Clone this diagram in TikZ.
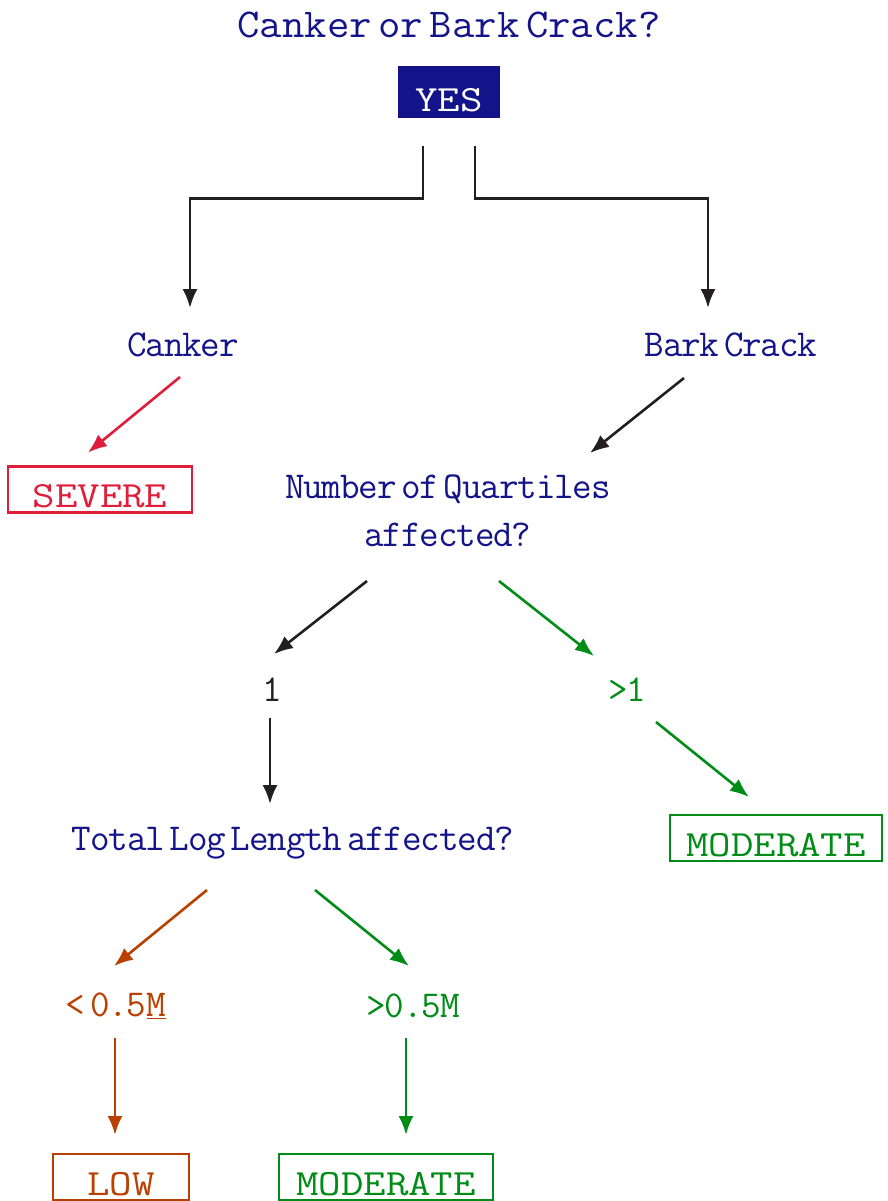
\documentclass[tikz,border=0pt]{standalone}
\usepackage{fontspec}
\usetikzlibrary{arrows.meta}
\setmainfont{Latin Modern Mono}
\newfontfamily\boxmono[FakeStretch=1.18]{Latin Modern Mono}
\newfontfamily\tightmono[LetterSpace=-3,WordSpace=0.25]{Latin Modern Mono}
\newfontfamily\titlemono[FakeStretch=1.06,WordSpace=0.3]{Latin Modern Mono}
\definecolor{qnavy}{RGB}{20,20,138}
\definecolor{sevred}{RGB}{222,30,58}
\definecolor{modgreen}{RGB}{0,140,22}
\definecolor{lowbrown}{RGB}{184,64,0}
\definecolor{linegrey}{RGB}{35,31,32}
\begin{document}
\begin{tikzpicture}[x=1pt, y=-1pt,
    question/.style={text=qnavy, inner sep=0pt, align=center,
        font=\tightmono\fontsize{38}{48}\selectfont},
    answer/.style={inner sep=0pt, font=\tightmono\fontsize{38}{46}\selectfont},
    result/.style={draw, line width=2.4pt, inner xsep=0pt, inner ysep=0pt,
        text height=41pt, text depth=5pt, align=center,
        font=\boxmono\fontsize{37}{46}\selectfont},
    arr/.style={-{Latex[length=19pt,width=15pt]}, line width=2.6pt}
    ]
    \useasboundingbox (0,0) rectangle (888,1201);

    % top question
    \node[question, font=\titlemono\fontsize{41}{48}\selectfont] (title) at (449,25) {Canker or Bark Crack?};
    \node[result, fill=qnavy, draw=qnavy, text=white, minimum width=100pt,
          text height=45pt] (yes) at (449,92) {YES};

    % first split
    \node[question] (canker) at (183,345) {Canker};
    \node[question] (bark) at (731,345) {Bark Crack};
    \draw[arr, linegrey] ([shift={(-26,0)}]yes.south) ++(0,28) -- ++(0,52)
        -| ([shift={(7,-37)}]canker.center);
    \draw[arr, linegrey] ([shift={(26,0)}]yes.south) ++(0,28) -- ++(0,52)
        -| ([shift={(-23,-37)}]bark.center);

    % canker
    \node[result, sevred, minimum width=184pt] (severe) at (100,489.5) {SEVERE};
    \draw[arr, sevred] ([shift={(-3,32)}]canker.center) -- ([shift={(-12,-37)}]severe.center);

    % bark crack
    \node[question] (quart) at (448,511) {Number of Quartiles\\affected?};
    \draw[arr, linegrey] ([shift={(-47,33)}]bark.center) -- ([shift={(142,-58)}]quart.center);

    \node[answer, linegrey] (one) at (272,690) {1};
    \node[answer, modgreen] (gtone) at (627,690) {>1};
    \draw[arr, linegrey] ([shift={(-81,70)}]quart.center) -- ([shift={(2,-36)}]one.center);
    \draw[arr, modgreen] ([shift={(51,70)}]quart.center) -- ([shift={(-33,-34)}]gtone.center);

    \node[result, modgreen, minimum width=212pt] (modA) at (776,838) {MODERATE};
    \draw[arr, modgreen] ([shift={(29,32)}]gtone.center) -- ([shift={(-27,-41)}]modA.center);

    % log length
    \node[question] (total) at (293,843) {Total Log Length affected?};
    \draw[arr, linegrey] ([shift={(-2,28)}]one.center) -- ([shift={(-23,-39)}]total.center);

    \node[answer, lowbrown] (lt) at (116,1006) {< 0.5\underline{M}};
    \node[answer, modgreen] (gt) at (413,1006) {>0.5M};
    \draw[arr, lowbrown] ([shift={(-86,47)}]total.center) -- ([shift={(-2,-40)}]lt.center);
    \draw[arr, modgreen] ([shift={(22,47)}]total.center) -- ([shift={(-4,-40)}]gt.center);

    \node[result, lowbrown, minimum width=136pt] (low) at (121,1177) {LOW};
    \node[result, modgreen, minimum width=214pt] (modB) at (386,1177) {MODERATE};
    \draw[arr, lowbrown] ([shift={(-1,32)}]lt.center) -- ([shift={(-6,-42)}]low.center);
    \draw[arr, modgreen] ([shift={(-7,32)}]gt.center) -- ([shift={(20,-42)}]modB.center);

\end{tikzpicture}
\end{document}
